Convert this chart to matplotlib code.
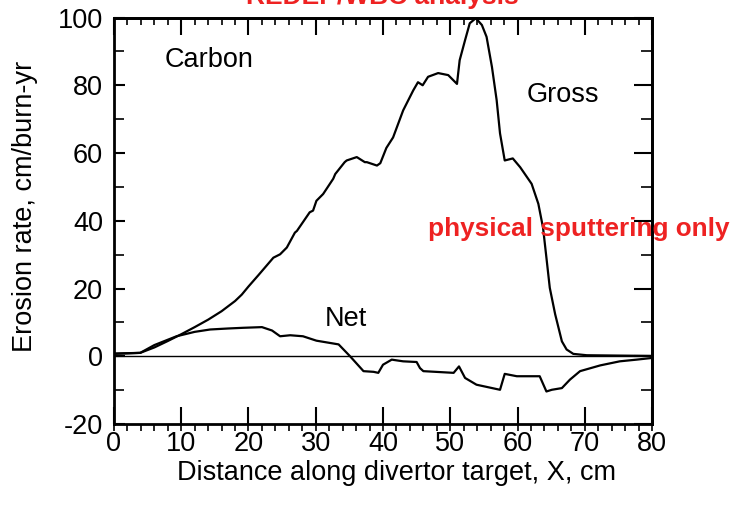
import matplotlib
matplotlib.use("Agg")
import matplotlib.pyplot as plt
from matplotlib.ticker import MultipleLocator

### Data (X in cm, erosion rate in cm/burn-yr)
gross_x = [0, 2, 3.9, 6, 8, 10, 12, 14, 16, 18, 19.0, 20.0, 21.5, 23.7, 24.7,
           25.7, 26.9, 27.2, 29.1, 29.6, 30.1, 31.1, 32.6, 32.9, 34.3, 34.6,
           36.1, 37.3, 37.6, 39.1, 39.6, 40.5, 41.5, 43.0, 44.5, 45.2, 45.9,
           46.7, 48.2, 49.7, 50.7, 51.0, 51.4, 52.2, 52.9, 53.8, 54.7, 55.4,
           56.2, 56.9, 57.4, 58.1, 59.3, 60.4, 62.1, 63.1, 63.8, 64.3, 64.8,
           65.6, 66.6, 67.3, 68.3, 70.3, 75, 80]
gross_y = [0.8, 0.9, 1.0, 2.6, 4.5, 6.5, 8.6, 10.8, 13.3, 16.3, 18.2, 20.6,
           24.0, 29.1, 30.1, 32.1, 36.5, 37.0, 42.5, 43.0, 45.9, 47.9, 52.4,
           53.8, 57.3, 57.8, 58.8, 57.3, 57.3, 56.3, 57.0, 61.5, 64.6, 72.6,
           78.5, 80.9, 80.0, 82.5, 83.6, 83.0, 81.0, 80.4, 87.4, 93.3, 98.3,
           99.8, 97.8, 94.3, 85.4, 75.6, 65.8, 57.8, 58.4, 55.8, 50.9, 45.0,
           37.9, 29.1, 20.2, 12.4, 4.4, 2.0, 0.7, 0.3, 0.2, 0.1]

net_x = [0, 3.9, 6, 9.3, 12, 14.3, 17, 19.2, 22, 23.5, 24.7, 26.2, 28.1,
         30.1, 33.4, 35.1, 37.1, 38.6, 39.3, 40, 41.3, 43, 45, 45.5, 46,
         50.5, 51.3, 52.2, 53.9, 57.4, 58.1, 59.9, 63.3, 64.3, 65.1, 66.6,
         67.8, 69.3, 72.3, 75.2, 77.7, 80]
net_y = [0.7, 1.0, 3.3, 5.9, 7.2, 7.9, 8.2, 8.4, 8.6, 7.6, 5.9, 6.2, 5.9,
         4.6, 3.5, 0.0, -4.4, -4.6, -4.9, -2.5, -1.0, -1.5, -1.7, -3.5, -4.4,
         -4.9, -3.0, -6.4, -8.4, -9.9, -5.2, -5.9, -5.9, -10.4, -9.9, -9.4,
         -6.9, -4.4, -2.7, -1.5, -1.0, -0.5]

x_ticks = [0, 10, 20, 30, 40, 50, 60, 70, 80]
y_ticks = [-20, 0, 20, 40, 60, 80, 100]

### matplotlib settings
matplotlib.rc("font", family=["Liberation Sans", "DejaVu Sans"], size=19.5)
matplotlib.rc("axes", unicode_minus=False, linewidth=2)

fig = plt.figure(figsize=(7.49, 5.05), dpi=100)
ax = fig.add_axes([0.1522, 0.1604, 0.7183, 0.8049])

ax.plot(gross_x, gross_y, color="black", linewidth=1.6)
ax.plot(net_x, net_y, color="black", linewidth=1.6)
ax.axhline(0, color="black", linewidth=1.0)

ax.set_xlim(0, 80)
ax.set_ylim(-20, 100)
ax.set_xticks(x_ticks)
ax.set_yticks(y_ticks)
ax.xaxis.set_minor_locator(MultipleLocator(2))
ax.yaxis.set_minor_locator(MultipleLocator(10))
ax.xaxis.remove_overlapping_locs = False

ax.tick_params(axis="x", which="major", direction="in", length=12, width=1.5, pad=5)
ax.tick_params(axis="x", which="minor", direction="out", length=5, width=1.2)
ax.tick_params(axis="y", which="major", direction="in", length=8, width=1.5, pad=8)
ax.tick_params(axis="y", which="minor", direction="in", length=7, width=1.2)

### top and right axes carry their own inward ticks, no labels
top = ax.secondary_xaxis("top")
top.set_xticks(x_ticks)
top.xaxis.set_minor_locator(MultipleLocator(2))
top.tick_params(which="major", direction="in", length=12, width=1.5, labeltop=False)
top.tick_params(which="minor", direction="in", length=5, width=1.2)
top.spines["top"].set_linewidth(2)

right = ax.secondary_yaxis("right")
right.set_yticks(y_ticks)
right.yaxis.set_minor_locator(MultipleLocator(10))
right.tick_params(which="major", direction="in", length=13, width=1.5, labelright=False)
right.tick_params(which="minor", direction="in", length=8, width=1.2)
right.spines["right"].set_linewidth(2)

ax.set_xlabel("Distance along divertor target, X, cm")
ax.set_ylabel("Erosion rate, cm/burn-yr")
ax.xaxis.set_label_coords(0.526, -0.089)
ax.yaxis.set_label_coords(-0.141, 0.536)

ax.text(14.2, 87.4, "Carbon", ha="center", va="center")
ax.text(66.8, 77.2, "Gross", ha="center", va="center")
ax.text(34.5, 11.0, "Net", ha="center", va="center")
ax.text(46.7, 37.6, "physical sputtering only", ha="left", va="center",
        color="#ee2222", fontweight="bold", fontsize=18.8, clip_on=False)

fig.text(0.511, 1 - 4 / 505, "REDEP/WBC analysis", ha="center", va="baseline",
         color="#ee2222", fontweight="bold", fontsize=19)

fig.savefig("out.png", dpi=100)
